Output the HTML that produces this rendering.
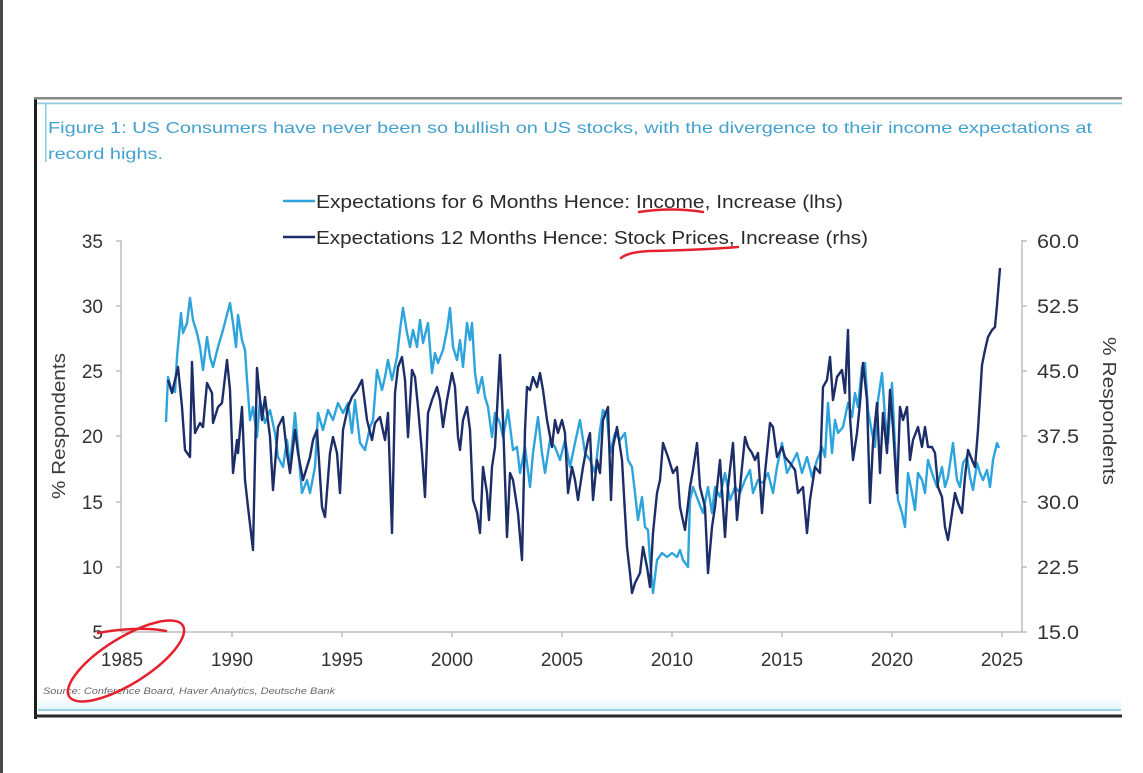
<!DOCTYPE html>
<html>
<head>
<meta charset="utf-8">
<style>
  html, body { margin: 0; padding: 0; background: #ffffff; }
  body { width: 1143px; height: 773px; overflow: hidden; }
  svg { display: block; font-family: "Liberation Sans", Arial, sans-serif; }
</style>
</head>
<body>
<svg width="1143" height="773" viewBox="0 0 1143 773" xmlns="http://www.w3.org/2000/svg">
  <defs>
    <linearGradient id="glow" x1="0" y1="0" x2="0" y2="1">
      <stop offset="0" stop-color="#ffffff"/>
      <stop offset="1" stop-color="#e2f5fa"/>
    </linearGradient>
  </defs>
  <rect x="0" y="0" width="1143" height="773" fill="#ffffff"/>
  <rect x="0" y="0" width="3" height="773" fill="#4a4a4a"/>

  <rect x="34" y="97" width="3" height="622" fill="#1e1e1e"/>
  <rect x="34" y="97" width="1088" height="2.5" fill="#8a8a8a"/>
  <rect x="37" y="102.5" width="1085" height="1.8" fill="#92cde3"/>
  <rect x="45" y="104" width="1.6" height="58" fill="#92cde3"/>
  <rect x="38" y="697" width="1083" height="12" fill="url(#glow)"/>
  <rect x="38" y="709" width="1083" height="2" fill="#9fd0e2"/>
  <rect x="34" y="714.5" width="1088" height="3" fill="#2a2a2a"/>

  <text x="48" y="133" font-size="16" fill="#43a1cf" textLength="1044" lengthAdjust="spacingAndGlyphs">Figure 1: US Consumers have never been so bullish on US stocks, with the divergence to their income expectations at</text>
  <text x="48" y="159" font-size="16" fill="#43a1cf" textLength="115" lengthAdjust="spacingAndGlyphs">record highs.</text>

  <line x1="283" y1="201" x2="315" y2="201" stroke="#2ea4dc" stroke-width="2.5"/>
  <line x1="283" y1="237" x2="315" y2="237" stroke="#1c2d68" stroke-width="2.5"/>
  <text x="316" y="208" font-size="18.5" fill="#2b2b2b" textLength="527" lengthAdjust="spacingAndGlyphs">Expectations for 6 Months Hence: Income, Increase (lhs)</text>
  <text x="316" y="244" font-size="18.5" fill="#2b2b2b" textLength="552" lengthAdjust="spacingAndGlyphs">Expectations 12 Months Hence: Stock Prices, Increase (rhs)</text>

  <g stroke="#bdbdbd" stroke-width="1.5" fill="none">
    <line x1="121" y1="240" x2="121" y2="632"/>
    <line x1="121" y1="632" x2="1022" y2="632"/>
    <line x1="1022" y1="240" x2="1022" y2="632"/>
    <line x1="116" y1="241" x2="121" y2="241"/>
    <line x1="116" y1="306" x2="121" y2="306"/>
    <line x1="116" y1="371" x2="121" y2="371"/>
    <line x1="116" y1="436" x2="121" y2="436"/>
    <line x1="116" y1="502" x2="121" y2="502"/>
    <line x1="116" y1="567" x2="121" y2="567"/>
    <line x1="1022" y1="241" x2="1027" y2="241"/>
    <line x1="1022" y1="306" x2="1027" y2="306"/>
    <line x1="1022" y1="371" x2="1027" y2="371"/>
    <line x1="1022" y1="436" x2="1027" y2="436"/>
    <line x1="1022" y1="502" x2="1027" y2="502"/>
    <line x1="1022" y1="567" x2="1027" y2="567"/>
    <line x1="1022" y1="632" x2="1027" y2="632"/>
    <line x1="232" y1="632" x2="232" y2="637"/>
    <line x1="342" y1="632" x2="342" y2="637"/>
    <line x1="452" y1="632" x2="452" y2="637"/>
    <line x1="562" y1="632" x2="562" y2="637"/>
    <line x1="672" y1="632" x2="672" y2="637"/>
    <line x1="782" y1="632" x2="782" y2="637"/>
    <line x1="892" y1="632" x2="892" y2="637"/>
    <line x1="1002" y1="632" x2="1002" y2="637"/>
  </g>

  <g font-size="19" fill="#333" text-anchor="end">
    <text x="103" y="248">35</text>
    <text x="103" y="313">30</text>
    <text x="103" y="378">25</text>
    <text x="103" y="443">20</text>
    <text x="103" y="509">15</text>
    <text x="103" y="574">10</text>
    <text x="103" y="639">5</text>
  </g>
  <g font-size="19" fill="#333">
    <text x="1037" y="248" textLength="42" lengthAdjust="spacingAndGlyphs">60.0</text>
    <text x="1037" y="313" textLength="42" lengthAdjust="spacingAndGlyphs">52.5</text>
    <text x="1037" y="378" textLength="42" lengthAdjust="spacingAndGlyphs">45.0</text>
    <text x="1037" y="443" textLength="42" lengthAdjust="spacingAndGlyphs">37.5</text>
    <text x="1037" y="509" textLength="42" lengthAdjust="spacingAndGlyphs">30.0</text>
    <text x="1037" y="574" textLength="42" lengthAdjust="spacingAndGlyphs">22.5</text>
    <text x="1037" y="639" textLength="42" lengthAdjust="spacingAndGlyphs">15.0</text>
  </g>
  <g font-size="19" fill="#333" text-anchor="middle">
    <text x="122" y="666">1985</text>
    <text x="232" y="666">1990</text>
    <text x="342" y="666">1995</text>
    <text x="452" y="666">2000</text>
    <text x="562" y="666">2005</text>
    <text x="672" y="666">2010</text>
    <text x="782" y="666">2015</text>
    <text x="892" y="666">2020</text>
    <text x="1002" y="666">2025</text>
  </g>

  <text transform="translate(65,426) rotate(-90)" font-size="18" fill="#3a3a3a" text-anchor="middle" textLength="146" lengthAdjust="spacingAndGlyphs">% Respondents</text>
  <text transform="translate(1103,411) rotate(90)" font-size="18" fill="#3a3a3a" text-anchor="middle" textLength="148" lengthAdjust="spacingAndGlyphs">% Respondents</text>

  <text x="43" y="694" font-size="9" font-style="italic" fill="#666" textLength="292" lengthAdjust="spacingAndGlyphs">Source: Conference Board, Haver Analytics, Deutsche Bank</text>

  <polyline fill="none" stroke="#2ea4dc" stroke-width="2.4" stroke-linejoin="round" points="166,422 168,377 171,388 175,392 177,357 181,313 183,333 187,323 190,298 193,320 197,333 200,347 203,370 207,337 210,357 213,367 218,347 223,330 230,303 233,323 236,347 238,315 242,340 245,350 247,380 250,420 253,407 257,437 260,400 265,423 270,410 275,433 278,457 283,467 287,440 290,467 295,413 298,447 302,493 307,480 310,493 315,467 318,413 323,430 328,410 333,420 338,403 343,413 348,403 352,433 355,400 360,443 365,450 370,427 373,420 377,370 382,390 385,377 388,360 392,380 397,357 400,330 403,308 407,333 410,347 413,330 417,347 420,320 423,343 428,323 432,373 435,353 438,363 443,350 447,330 450,308 453,347 457,360 460,340 463,367 467,323 470,340 472,323 475,373 478,393 482,377 485,397 488,407 492,437 495,413 500,423 503,437 508,410 513,450 517,447 520,473 525,447 530,487 533,453 538,417 542,453 545,473 550,440 555,447 560,460 565,440 570,467 575,443 580,420 585,453 590,460 595,473 600,430 603,410 607,417 610,453 615,433 620,440 625,433 628,460 632,467 635,493 638,520 642,497 645,527 648,530 650,560 653,593 657,560 662,553 667,557 672,553 677,557 680,550 683,560 688,567 690,500 693,487 698,500 703,513 708,487 712,513 715,487 720,497 725,473 730,500 735,487 740,493 745,480 750,470 753,493 758,480 763,483 768,473 773,493 777,467 782,443 787,473 792,463 797,453 802,473 807,457 812,477 817,460 822,447 825,457 828,403 832,453 835,420 838,433 843,427 848,403 852,417 855,393 858,407 862,367 865,363 868,410 872,433 875,447 878,400 882,373 885,417 888,443 892,383 895,447 898,500 902,513 905,527 908,473 912,493 915,510 918,473 922,480 925,493 928,460 932,473 937,487 942,467 945,487 948,477 953,443 957,480 960,487 963,463 967,457 970,477 973,490 977,463 980,473 983,480 987,470 990,487 993,460 997,443 999,448"/>

  <polyline fill="none" stroke="#1c2d68" stroke-width="2.4" stroke-linejoin="round" points="168,380 172,393 178,367 182,407 185,450 190,457 192,362 195,433 200,423 203,427 207,383 212,393 213,423 218,407 222,403 227,360 230,390 233,473 237,440 238,453 242,407 245,480 248,507 253,550 257,368 262,420 265,397 270,437 273,490 278,427 283,417 287,453 290,473 295,430 298,453 303,480 310,457 313,440 317,430 322,507 325,517 330,453 333,437 337,453 340,493 343,430 348,407 352,397 357,390 362,380 367,420 372,440 375,423 380,417 385,440 388,413 392,533 395,393 398,367 402,357 405,380 408,437 412,370 415,377 418,407 422,453 425,497 428,413 432,400 437,387 440,400 443,427 447,400 452,373 455,387 458,437 460,450 463,420 467,407 470,430 473,500 477,513 480,533 483,467 487,493 489,520 492,467 495,447 500,355 503,420 507,537 510,473 513,480 518,513 522,560 525,430 527,387 530,390 533,377 537,387 540,373 543,390 547,420 552,447 555,420 558,433 562,420 565,433 568,493 572,467 575,480 578,500 583,467 588,440 590,433 593,500 597,460 600,473 603,420 608,407 611,500 613,447 617,427 622,460 625,513 627,547 630,573 632,593 635,583 640,573 643,547 647,567 650,587 653,533 657,493 660,480 663,443 668,457 673,473 677,467 680,507 685,530 690,487 693,470 697,443 700,487 705,507 708,573 712,527 715,507 720,460 725,537 728,487 733,443 737,520 742,467 745,437 748,447 752,453 755,460 758,453 762,513 765,473 770,423 773,427 777,457 782,447 785,457 790,463 795,470 798,493 803,487 807,533 810,500 815,467 820,473 823,387 827,380 830,357 833,400 837,377 842,370 845,393 848,330 850,417 853,460 857,433 860,403 863,363 867,400 870,503 873,443 877,403 880,473 883,413 887,453 890,390 893,427 897,493 900,407 903,420 907,407 910,460 913,440 918,427 922,447 925,427 928,447 932,447 935,453 938,487 942,497 945,527 948,540 952,513 955,493 958,503 962,513 965,477 968,450 972,460 975,467 978,430 982,365 985,350 988,337 992,330 995,327 997,305 1000,268"/>

  <g fill="none" stroke="#e3222e" stroke-width="2.5" stroke-linecap="round">
    <path d="M639,212 Q 672,207 703,212"/>
    <path d="M621,258 Q 628,252 650,251 Q 700,250 738,247"/>
    <path d="M98,633 C 120,629 148,627 166,631"/>
    <ellipse cx="126" cy="661" rx="67" ry="23" transform="rotate(-32 126 661)"/>
  </g>
</svg>
</body>
</html>
